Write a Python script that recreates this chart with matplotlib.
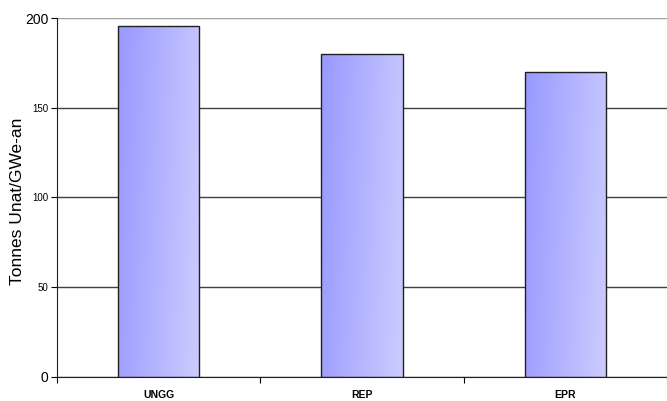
import numpy as np
import matplotlib.pyplot as plt
from matplotlib.patches import Rectangle

plt.rcParams['font.family'] = ['Liberation Sans', 'DejaVu Sans']

# --- données ---
categories = ['UNGG', 'REP', 'EPR']
valeurs = [196, 180, 170]
yticks = [0, 50, 100, 150, 200]

fig = plt.figure(figsize=(6.67, 4.01), dpi=100)
ax = fig.add_axes([0.0855, 0.061, 0.9145, 0.893])

x = np.arange(len(categories))
largeur = 0.4

# dégradé horizontal légèrement incliné
gx, gy = np.meshgrid(np.linspace(0, 1, 64), np.linspace(0, 1, 64))
t = np.clip(0.85 * gx + 0.15 * (1 - gy), 0, 1)
c0 = np.array([0x99, 0x99, 0xFF]) / 255
c1 = np.array([0xCC, 0xCC, 0xFF]) / 255
grad = c0 + t[..., None] * (c1 - c0)

for xi, v in zip(x, valeurs):
    x0 = xi - largeur / 2
    im = ax.imshow(grad, extent=[x0, x0 + largeur, 0, v], origin='lower',
                   aspect='auto', zorder=2, interpolation='bilinear')
    rect = Rectangle((x0, 0), largeur, v, fill=False, edgecolor='#202020',
                     linewidth=1.0, zorder=3)
    ax.add_patch(rect)
    im.set_clip_path(rect)

ax.set_xlim(-0.5, len(categories) - 0.5)
ax.set_ylim(0, 200)

ax.set_yticks(yticks)
ax.set_yticklabels([str(v) for v in yticks])
for lbl, v in zip(ax.get_yticklabels(), yticks):
    lbl.set_fontsize(10 if v in (0, 200) else 7)
ax.yaxis.grid(True, color='#404040', linewidth=1.0, zorder=0)
ax.set_axisbelow(True)
# ligne du haut plus claire
ax.get_ygridlines()[-1].set_color('#a0a0a0')

ax.set_xticks(np.arange(len(categories) + 1) - 0.5)
ax.set_xticklabels([])
ax.set_xticks(x, minor=True)
ax.set_xticklabels(categories, minor=True, fontsize=7.5, fontweight='bold')
ax.tick_params(axis='x', which='minor', length=0, pad=10)
ax.tick_params(axis='x', which='major', length=4, direction='out')
ax.tick_params(axis='y', length=4, direction='out', pad=2)

ax.spines['top'].set_visible(False)
ax.spines['right'].set_visible(False)
ax.spines['left'].set_color('#202020')
ax.spines['bottom'].set_color('#202020')

ax.set_ylabel('Tonnes Unat/GWe-an', fontsize=12.5)
ax.yaxis.set_label_coords(-0.053, 0.49)

fig.savefig('out.png', dpi=100)
